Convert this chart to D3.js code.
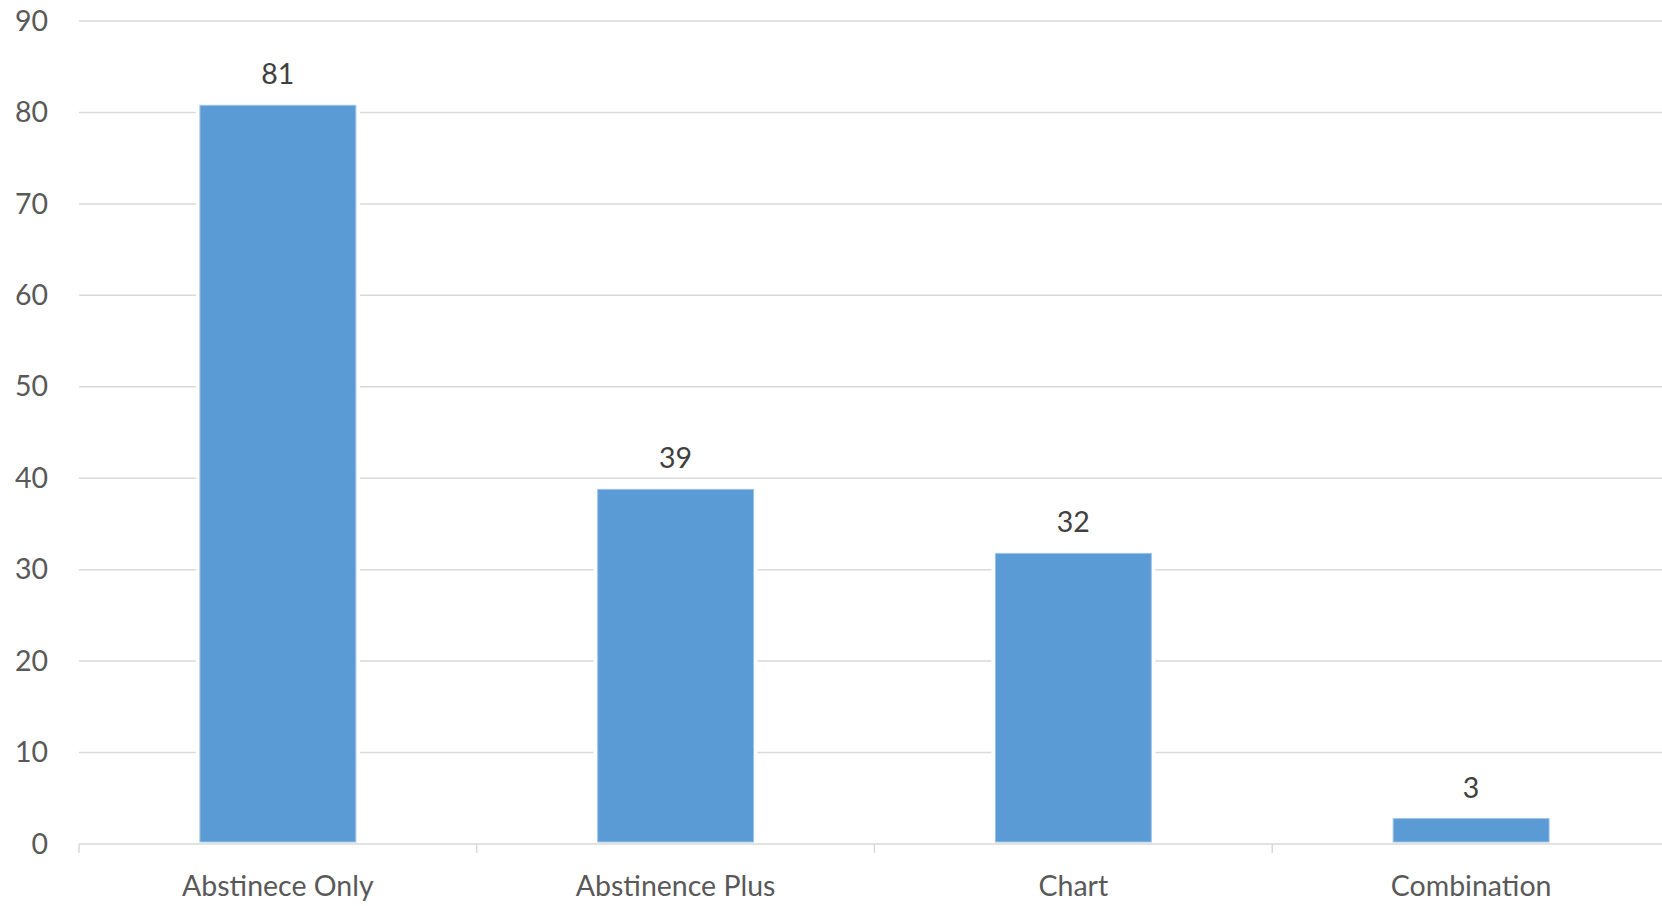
<!DOCTYPE html>
<html>
<head>
<meta charset="utf-8">
<script src="https://cdn.jsdelivr.net/npm/d3@7"></script>
<style>
  html, body { margin: 0; padding: 0; background: #ffffff; }
  svg { display: block; }
</style>
</head>
<body>
<svg id="chart" width="1662" height="906"></svg>
<script>
// Programme types and counts
const categories = ["Abstinece Only", "Abstinence Plus", "Chart", "Combination"];
const counts = [81, 39, 32, 3];
const yTicks = [0, 10, 20, 30, 40, 50, 60, 70, 80, 90];

const svg = d3.select("#chart");
const font = "Lato, 'Open Sans', sans-serif";
const fontSize = 28.5;

const plot = { left: 79, right: 1670, top: 21, bottom: 844 };

const x = d3.scaleBand()
  .domain(categories)
  .range([plot.left, plot.right])
  .paddingInner(0.608)
  .paddingOuter(0.304);

const y = d3.scaleLinear()
  .domain([0, 90])
  .range([plot.bottom, plot.top]);

// Horizontal gridlines
svg.append("g")
  .selectAll("line")
  .data(yTicks.filter(d => d > 0))
  .join("line")
  .attr("x1", plot.left)
  .attr("x2", plot.right)
  .attr("y1", d => y(d))
  .attr("y2", d => y(d))
  .attr("stroke", "#d9d9d9")
  .attr("stroke-width", 1.5);

// Y axis labels
const yAxis = d3.axisLeft(y).tickValues(yTicks).tickSize(0).tickPadding(0);
svg.append("g")
  .attr("transform", `translate(48,0)`)
  .call(yAxis)
  .call(g => g.select(".domain").remove())
  .call(g => g.selectAll("text")
    .attr("font-family", font)
    .attr("font-size", fontSize)
    .attr("fill", "#595959")
    .attr("dy", "0.32em"));

// Bars with a thin white surround
const bars = svg.append("g");
bars.selectAll("rect.halo")
  .data(categories)
  .join("rect")
  .attr("class", "halo")
  .attr("x", d => x(d) - 4)
  .attr("width", x.bandwidth() + 8)
  .attr("y", (d, i) => y(counts[i]) - 2)
  .attr("height", (d, i) => y(0) - y(counts[i]))
  .attr("fill", "#ffffff");
bars.selectAll("rect.bar")
  .data(categories)
  .join("rect")
  .attr("class", "bar")
  .attr("x", d => x(d))
  .attr("width", x.bandwidth())
  .attr("y", (d, i) => y(counts[i]) + 2)
  .attr("height", (d, i) => y(0) - y(counts[i]) - 4)
  .attr("fill", "#5b9bd5")
  .attr("stroke", "#9dc3e6")
  .attr("stroke-width", 1);

// X axis baseline and category ticks
const boundaries = categories.map(c => x(c) - x.step() * x.paddingInner() / 2);
svg.append("line")
  .attr("x1", plot.left).attr("x2", plot.right)
  .attr("y1", plot.bottom).attr("y2", plot.bottom)
  .attr("stroke", "#d9d9d9").attr("stroke-width", 1.5);
svg.append("g")
  .selectAll("line")
  .data(boundaries)
  .join("line")
  .attr("x1", d => d).attr("x2", d => d)
  .attr("y1", plot.bottom).attr("y2", plot.bottom + 9)
  .attr("stroke", "#d9d9d9").attr("stroke-width", 1.5);

// Category labels
svg.append("g")
  .selectAll("text")
  .data(categories)
  .join("text")
  .attr("x", d => x(d) + x.bandwidth() / 2)
  .attr("y", 896)
  .attr("text-anchor", "middle")
  .attr("font-family", font)
  .attr("font-size", fontSize)
  .attr("fill", "#595959")
  .text(d => d);

// Value labels above bars
svg.append("g")
  .selectAll("text")
  .data(categories)
  .join("text")
  .attr("x", d => x(d) + x.bandwidth() / 2)
  .attr("y", (d, i) => y(counts[i]) - 19)
  .attr("text-anchor", "middle")
  .attr("font-family", font)
  .attr("font-size", fontSize)
  .attr("fill", "#404040")
  .text((d, i) => counts[i]);
</script>
</body>
</html>
